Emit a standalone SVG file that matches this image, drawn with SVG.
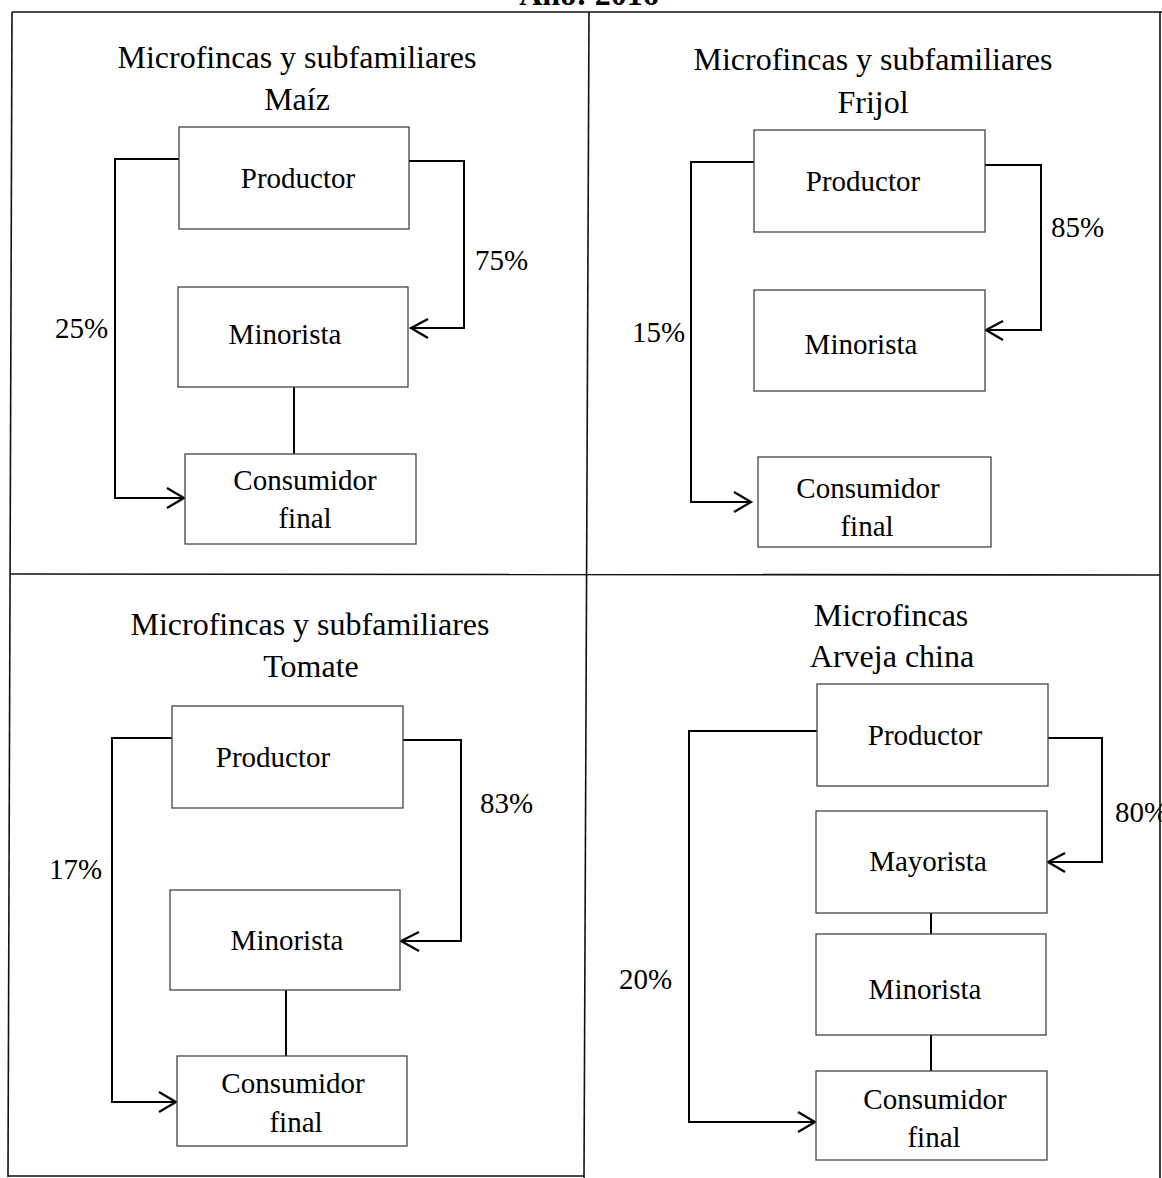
<svg xmlns="http://www.w3.org/2000/svg" width="1162" height="1178" viewBox="0 0 1162 1178">
<defs>
<style>
text{font-family:"Liberation Serif","Times New Roman",serif;fill:#000;}
.title{font-size:32px;text-anchor:middle;}
.lbl{font-size:29px;text-anchor:middle;}
.pct{font-size:29px;}
.box{fill:#fff;stroke:#444;stroke-width:1.3;}
.conn{fill:none;stroke:#000;stroke-width:2;}
.arrow{fill:none;stroke:#000;stroke-width:2.2;}
.grid{fill:none;stroke:#111;stroke-width:1.6;}
</style>
</defs>
<rect width="1162" height="1178" fill="#fff"/>
<text x="589" y="5" style="font-size:32px;font-weight:bold;text-anchor:middle;">Año: 2016</text>
<g id="table">
<path class="grid" d="M12,12 L1162,12"/>
<path class="grid" d="M12,12 L8,1177"/>
<path class="grid" d="M8,1176 L584,1176"/>
<path class="grid" d="M589,12 L584,1178"/>
<path class="grid" d="M10,574 L1160,575"/>
<path class="grid" d="M1160,12 L1160,1178"/>
</g>
<g id="titles">
<text class="title" x="297" y="68">Microfincas y subfamiliares</text>
<text class="title" x="297" y="110">Maíz</text>
<text class="title" x="873" y="70">Microfincas y subfamiliares</text>
<text class="title" x="873" y="113">Frijol</text>
<text class="title" x="310" y="635">Microfincas y subfamiliares</text>
<text class="title" x="311" y="677">Tomate</text>
<text class="title" x="891" y="626">Microfincas</text>
<text class="title" x="892" y="667">Arveja china</text>
</g>
<g id="connectors">
<path class="conn" d="M409,161 H464 V328 H411"/>
<path class="arrow" d="M428,319 L411,328 L428,338"/>
<path class="conn" d="M179,159 H115 V498 H183"/>
<path class="arrow" d="M167,488 L184,498 L167,508"/>
<path class="conn" d="M294,387 V454"/>
<path class="conn" d="M985,165 H1041 V330 H987"/>
<path class="arrow" d="M1003,321 L986,330 L1003,340"/>
<path class="conn" d="M754,162 H691 V502 H750"/>
<path class="arrow" d="M734,492 L751,502 L734,512"/>
<path class="conn" d="M403,740 H461 V941 H402"/>
<path class="arrow" d="M419,932 L401,941 L419,951"/>
<path class="conn" d="M172,738 H112 V1102 H175"/>
<path class="arrow" d="M159,1092 L176,1102 L159,1112"/>
<path class="conn" d="M286,990 V1056"/>
<path class="conn" d="M1048,738 H1102 V862 H1049"/>
<path class="arrow" d="M1065,853 L1048,862 L1065,872"/>
<path class="conn" d="M817,731 H689 V1122 H814"/>
<path class="arrow" d="M798,1112 L815,1122 L798,1132"/>
<path class="conn" d="M931,913 V934"/>
<path class="conn" d="M931,1035 V1071"/>
</g>
<g id="q1-productor"><rect class="box" x="179" y="127" width="230" height="102"/><text class="lbl" x="298" y="188">Productor</text></g>
<g id="q1-minorista"><rect class="box" x="178" y="287" width="230" height="100"/><text class="lbl" x="285" y="344">Minorista</text></g>
<g id="q1-consumidor"><rect class="box" x="185" y="454" width="231" height="90"/><text class="lbl" x="305" y="490">Consumidor</text><text class="lbl" x="305" y="528">final</text></g>
<g id="q1-labels"><text class="pct" x="475" y="270">75%</text><text class="pct" x="55" y="338">25%</text></g>
<g id="q2-productor"><rect class="box" x="754" y="130" width="231" height="102"/><text class="lbl" x="863" y="191">Productor</text></g>
<g id="q2-minorista"><rect class="box" x="754" y="290" width="231" height="101"/><text class="lbl" x="861" y="354">Minorista</text></g>
<g id="q2-consumidor"><rect class="box" x="758" y="457" width="233" height="90"/><text class="lbl" x="868" y="498">Consumidor</text><text class="lbl" x="867" y="536">final</text></g>
<g id="q2-labels"><text class="pct" x="1051" y="237">85%</text><text class="pct" x="632" y="342">15%</text></g>
<g id="q3-productor"><rect class="box" x="172" y="706" width="231" height="102"/><text class="lbl" x="273" y="767">Productor</text></g>
<g id="q3-minorista"><rect class="box" x="170" y="890" width="230" height="100"/><text class="lbl" x="287" y="950">Minorista</text></g>
<g id="q3-consumidor"><rect class="box" x="177" y="1056" width="230" height="90"/><text class="lbl" x="293" y="1093">Consumidor</text><text class="lbl" x="296" y="1132">final</text></g>
<g id="q3-labels"><text class="pct" x="480" y="813">83%</text><text class="pct" x="49" y="879">17%</text></g>
<g id="q4-productor"><rect class="box" x="817" y="684" width="231" height="102"/><text class="lbl" x="925" y="745">Productor</text></g>
<g id="q4-mayorista"><rect class="box" x="816" y="811" width="231" height="102"/><text class="lbl" x="928" y="871">Mayorista</text></g>
<g id="q4-minorista"><rect class="box" x="816" y="934" width="230" height="101"/><text class="lbl" x="925" y="999">Minorista</text></g>
<g id="q4-consumidor"><rect class="box" x="816" y="1071" width="231" height="89"/><text class="lbl" x="935" y="1109">Consumidor</text><text class="lbl" x="934" y="1147">final</text></g>
<g id="q4-labels"><text class="pct" x="1115" y="822">80%</text><text class="pct" x="619" y="989">20%</text></g>
</svg>
